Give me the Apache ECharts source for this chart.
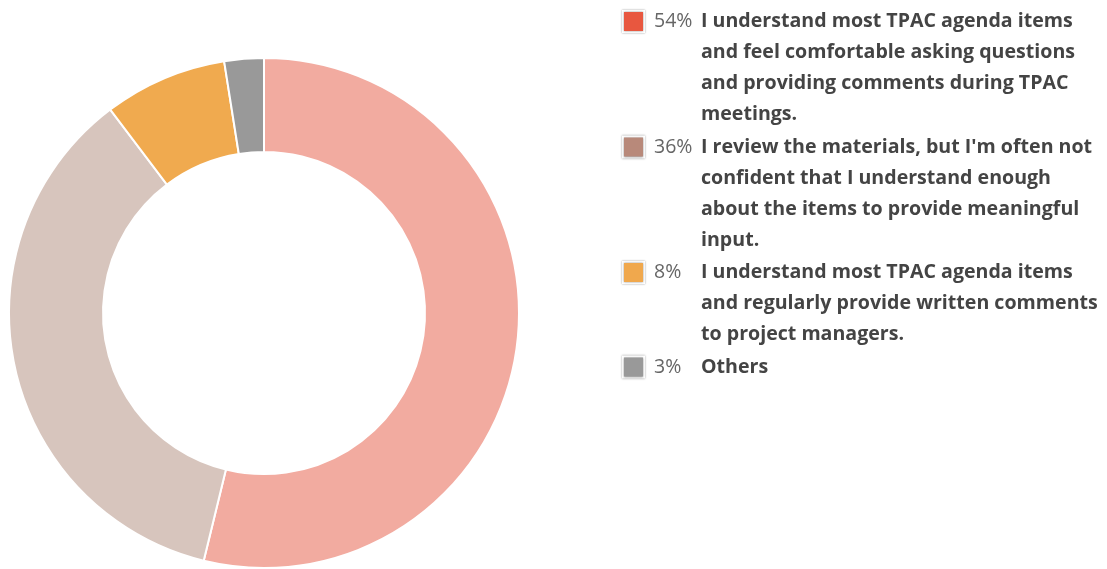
<!DOCTYPE html>
<html>
<head>
<meta charset="utf-8">
<script src="https://cdn.jsdelivr.net/npm/echarts@6/dist/echarts.min.js"></script>
<style>html,body{margin:0;padding:0;background:#fff}#c{width:1107px;height:569px}</style>
</head>
<body>
<div id="c"></div>
<script>
const categories = [
  "I understand most TPAC agenda items and feel comfortable asking questions and providing comments during TPAC meetings.",
  "I review the materials, but I'm often not confident that I understand enough about the items to provide meaningful input.",
  "I understand most TPAC agenda items and regularly provide written comments to project managers.",
  "Others"
];
const categoryLines = [
  ["I understand most TPAC agenda items", "and feel comfortable asking questions", "and providing comments during TPAC", "meetings."],
  ["I review the materials, but I'm often not", "confident that I understand enough", "about the items to provide meaningful", "input."],
  ["I understand most TPAC agenda items", "and regularly provide written comments", "to project managers."],
  ["Others"]
];
const values = [53.8, 35.9, 7.8, 2.5];
const pctLabels = ["54%", "36%", "8%", "3%"];
const sliceColors = ["#f2aba0", "#d7c5bd", "#f0aa4f", "#999999"];
const legendColors = ["#e8573f", "#b8897a", "#f0a84d", "#999999"];

const chart = echarts.init(document.getElementById('c'), null, {renderer: 'canvas'});

const rich = {
  g: {width: 11},
  p: {width: 47, fontSize: 19.5, fontWeight: 'normal', color: '#666', fontFamily: 'Open Sans', lineHeight: 31},
  t: {fontSize: 19.6, fontWeight: 'bold', color: '#444', fontFamily: 'Open Sans', lineHeight: 31},
  s: {width: 77, lineHeight: 31}
};
legendColors.forEach((c, i) => {
  rich['b' + i] = {width: 19, height: 19, backgroundColor: c, borderColor: '#fff', borderWidth: 2,
    shadowColor: 'rgba(0,0,0,0.45)', shadowBlur: 2, lineHeight: 31};
});

chart.setOption({
  animation: false,
  legend: {
    orient: 'vertical',
    left: 619,
    top: 10,
    padding: 0,
    itemGap: 11,
    itemWidth: 0,
    itemHeight: 0,
    icon: 'none',
    textStyle: {fontFamily: 'Open Sans', rich: rich},
    data: categories,
    formatter: function (name) {
      const i = categories.indexOf(name);
      const lines = categoryLines[i];
      let s = '{b' + i + '|}{g|}{p|' + pctLabels[i] + '}{t|' + lines[0] + '}';
      for (let k = 1; k < lines.length; k++) s += '\n{s|}{t|' + lines[k] + '}';
      return s;
    }
  },
  series: [{
    type: 'pie',
    center: [264, 313],
    radius: [161, 255],
    startAngle: 90,
    clockwise: true,
    label: {show: false},
    labelLine: {show: false},
    itemStyle: {borderColor: '#fff', borderWidth: 2},
    emphasis: {scale: false},
    data: categories.map((n, i) => ({name: n, value: values[i], itemStyle: {color: sliceColors[i]}}))
  }]
});
</script>
</body>
</html>
